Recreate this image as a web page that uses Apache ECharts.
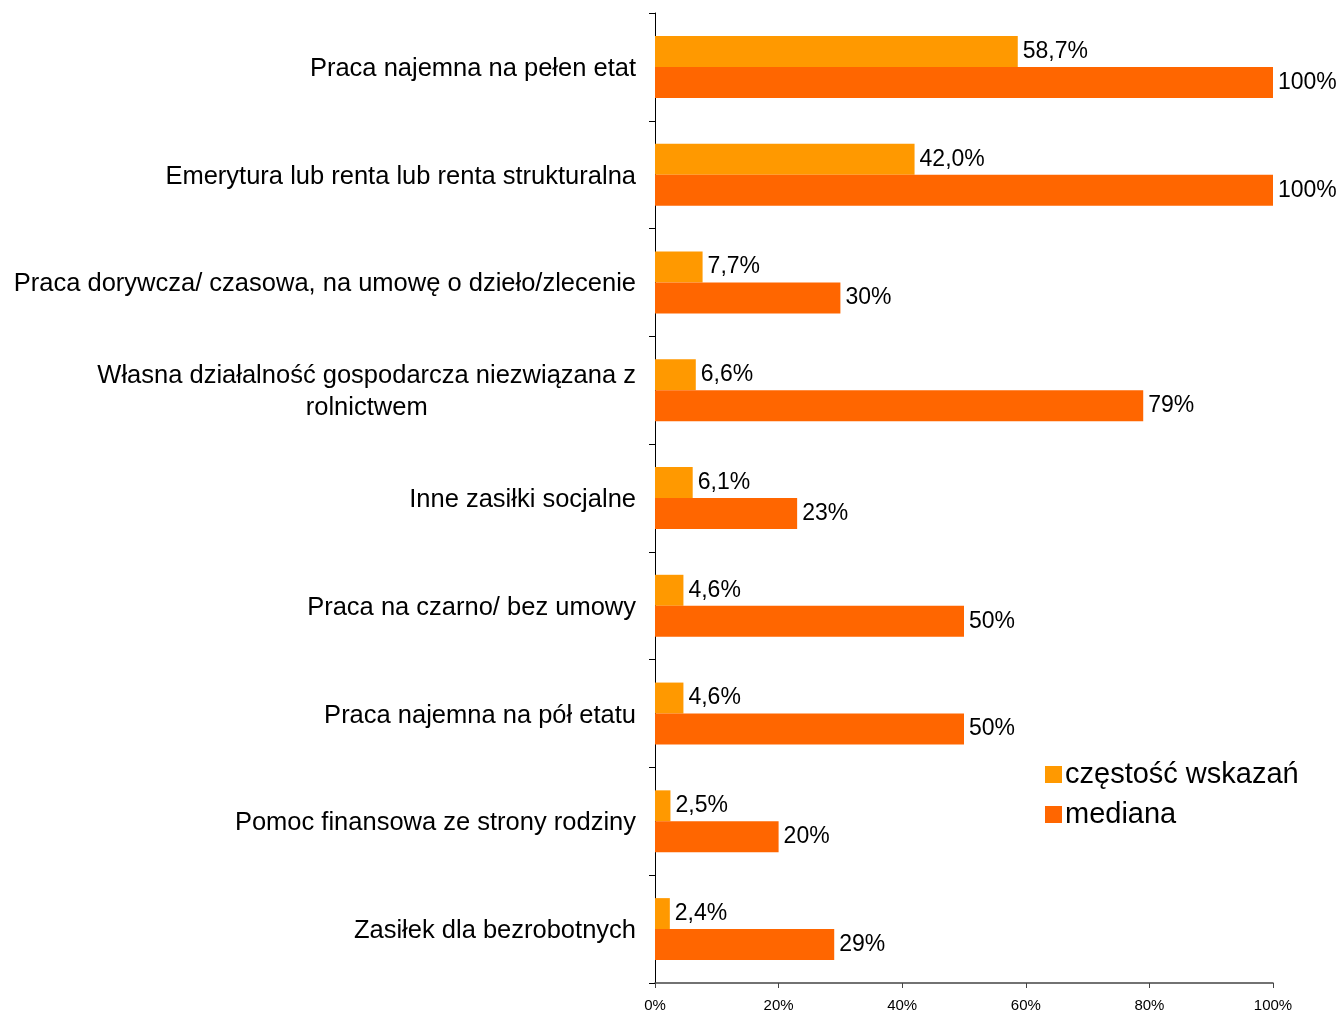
<!DOCTYPE html>
<html>
<head>
<meta charset="utf-8">
<script src="https://cdn.jsdelivr.net/npm/echarts@6/dist/echarts.min.js"></script>
<style>html,body{margin:0;padding:0;background:#fff}#c{width:1342px;height:1013px}</style>
</head>
<body>
<div id="c"></div>
<script>
const categories = [
  "Praca najemna na pełen etat",
  "Emerytura lub renta lub renta strukturalna",
  "Praca dorywcza/ czasowa, na umowę o dzieło/zlecenie",
  "Własna działalność gospodarcza niezwiązana z\nrolnictwem",
  "Inne zasiłki socjalne",
  "Praca na czarno/ bez umowy",
  "Praca najemna na pół etatu",
  "Pomoc finansowa ze strony rodziny",
  "Zasiłek dla bezrobotnych"
];
const seriesNames = ["częstość wskazań", "mediana"];
const frequency = [58.7, 42.0, 7.7, 6.6, 6.1, 4.6, 4.6, 2.5, 2.4];
const median = [100, 100, 30, 79, 23, 50, 50, 20, 29];
const xTicks = [0, 20, 40, 60, 80, 100];

const FONT = "Liberation Sans, Arial, sans-serif";
const chart = echarts.init(document.getElementById('c'), null, {renderer: 'canvas'});
chart.setOption({
  animation: false,
  backgroundColor: '#ffffff',
  textStyle: {fontFamily: FONT},
  grid: {left: 655, right: 69, top: 13, bottom: 30, containLabel: false},
  legend: {
    orient: 'vertical',
    left: 1040, top: 755,
    itemWidth: 17, itemHeight: 17, itemGap: 11,
    icon: 'rect',
    textStyle: {fontSize: 29, color: '#000', fontFamily: FONT, padding: [0,0,0,-2]},
    data: seriesNames
  },
  xAxis: {
    type: 'value', min: 0, max: 100, interval: 20,
    axisLine: {show: true, lineStyle: {color: '#444', width: 1.5}},
    axisTick: {show: true, length: 5, lineStyle: {color: '#444'}},
    splitLine: {show: false},
    axisLabel: {fontSize: 15, color: '#000', margin: 15, fontFamily: FONT,
      formatter: v => xTicks.includes(v) ? v + '%' : ''}
  },
  yAxis: {
    type: 'category', inverse: true, data: categories,
    axisLine: {show: true, lineStyle: {color: '#000', width: 1}},
    axisTick: {show: true, length: 6, inside: false, lineStyle: {color: '#000'}},
    axisLabel: {
      margin: 19, color: '#000', fontSize: 25.5, fontFamily: FONT,
      formatter: v => '{a|' + v + '}',
      rich: {a: {fontSize: 25.5, lineHeight: 32, align: 'center', color: '#000', fontFamily: FONT, padding: [4, 0, 0, 0]}}
    }
  },
  series: [
    {
      name: seriesNames[0], type: 'bar', data: frequency,
      itemStyle: {color: '#FF9900'},
      barGap: '0%', barCategoryGap: '42.5%',
      label: {show: true, position: 'right', distance: 5, fontSize: 23, color: '#000', fontFamily: FONT,
        formatter: p => p.value.toFixed(1).replace('.', ',') + '%'}
    },
    {
      name: seriesNames[1], type: 'bar', data: median,
      itemStyle: {color: '#FF6600'},
      barGap: '0%', barCategoryGap: '42.5%',
      label: {show: true, position: 'right', distance: 5, fontSize: 23, color: '#000', fontFamily: FONT,
        formatter: p => p.value + '%'}
    }
  ]
});
</script>
</body>
</html>
